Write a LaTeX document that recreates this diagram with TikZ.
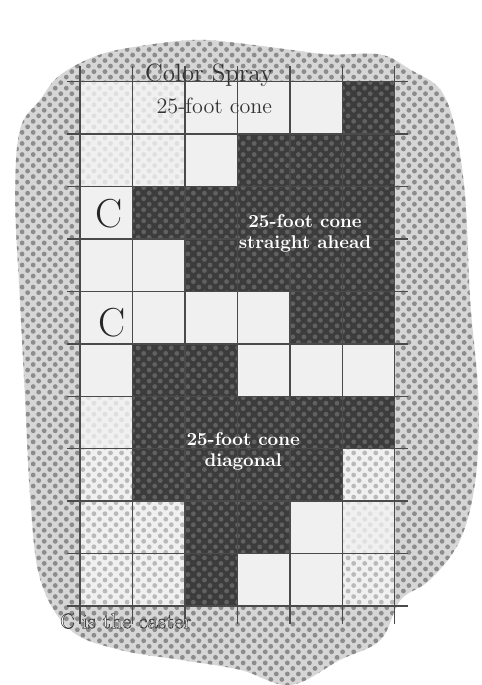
\documentclass[tikz,border=0pt]{standalone}
\usepackage{xcolor}
\usepackage{tikz}
\usetikzlibrary{patterns}
\definecolor{ink}{HTML}{3C3C3C}
\definecolor{paper}{HTML}{F0F0F0}
\definecolor{smudge}{HTML}{D6D6D6}
\definecolor{dots}{HTML}{8C8C8C}
\definecolor{rule}{HTML}{4A4A4A}
\pgfdeclarepatternformonly{halftone}{\pgfqpoint{-1.5pt}{-1.5pt}}{\pgfqpoint{4.5pt}{4.5pt}}{\pgfqpoint{6pt}{6pt}}{\pgfpathcircle{\pgfqpoint{0pt}{0pt}}{1.3pt}\pgfpathcircle{\pgfqpoint{3pt}{3pt}}{1.3pt}\pgfusepath{fill}}
\newcommand{\outlined}[1]{\special{pdf:literal direct 2 Tr 0.3 w 0.25 G}#1\special{pdf:literal direct 0 Tr}}
\tikzset{blob/.style={fill=smudge,postaction={pattern=halftone,pattern color=dots}},
  darkcells/.style={fill=ink,postaction={pattern=halftone,pattern color=black!62}},
  mottled/.style={fill=paper,postaction={pattern=halftone,pattern color=gray!55}},
  speckled/.style={fill=paper,postaction={pattern=halftone,pattern color=gray!25}},
  gridrule/.style={rule,line width=0.75pt},
  caster/.style={text=black!85,font=\fontsize{22}{22}\selectfont},
  conelbl/.style={text=white,font=\bfseries\fontsize{10}{11.5}\selectfont,align=center}}
\begin{document}
\begin{tikzpicture}[x=1cm,y=-1cm]
\useasboundingbox (-1.53,-1.56) rectangle (7.65,11.51);
\fill[white] (-1.53,-1.56) rectangle (7.65,11.51);
\path[blob] plot[smooth cycle,tension=0.6] coordinates {(-0.38,-0.13) (0.38,-0.52) (1.34,-0.71) (2.29,-0.80) (3.24,-0.71) (4.01,-0.61) (4.77,-0.52) (5.73,-0.52) (6.30,-0.23) (6.87,0.15) (7.16,0.92) (7.35,2.25) (7.44,4.16) (7.60,6.07) (7.54,7.60) (7.25,8.74) (6.68,9.50) (6.11,9.89) (5.73,10.65) (4.96,11.03) (4.01,11.51) (3.05,11.22) (1.91,11.03) (0.76,10.84) (-0.19,10.46) (-0.76,9.50) (-0.95,7.98) (-1.05,6.07) (-1.15,4.16) (-1.24,2.25) (-1.15,0.92) (-0.76,0.34)};
\fill[paper] (0,0) rectangle (6,10);
\path[speckled] (0,0) rectangle (2,2); \path[speckled] (0,6) rectangle (1,7);
\path[mottled] (0,7) rectangle (1,8); \path[mottled] (0,8) rectangle (2,10);
\path[mottled] (5,7) rectangle (6,8); \path[speckled] (5,8) rectangle (6,9); \path[mottled] (5,9) rectangle (6,10);
\path[darkcells] (5,0)--(6,0)--(6,5)--(4,5)--(4,4)--(2,4)--(2,3)--(1,3)--(1,2)--(3,2)--(3,1)--(5,1)--cycle;
\path[darkcells] (1,5)--(3,5)--(3,6)--(6,6)--(6,7)--(5,7)--(5,8)--(4,8)--(4,9)--(3,9)--(3,10)--(2,10)--(2,8)--(1,8)--cycle;
\foreach \c in {0,...,6} \draw[gridrule] (\c,-0.3)--(\c,10.35);
\foreach \r in {0,...,10} \draw[gridrule] (-0.25,\r)--(6.25,\r);
\node[text=black!80,font=\fontsize{13.6}{14}\selectfont] (title) at (2.46,-0.13) {Color Spray};
\node[text=black!80,font=\fontsize{12}{13}\selectfont] (subtitle) at (2.56,0.46) {25-foot cone};
\node[caster] (casterA) at (0.55,2.52) {C};
\node[caster] (casterB) at (0.6,4.6) {C};
\node[conelbl] (ahead) at (4.29,2.89) {25-foot cone\\straight ahead};
\node[conelbl] (diag) at (3.11,7.06) {25-foot cone\\diagonal};
\node[text=white,font=\fontsize{11.5}{12}\selectfont] (note) at (0.87,10.29) {\outlined{C is the caster}};
\end{tikzpicture}
\end{document}
